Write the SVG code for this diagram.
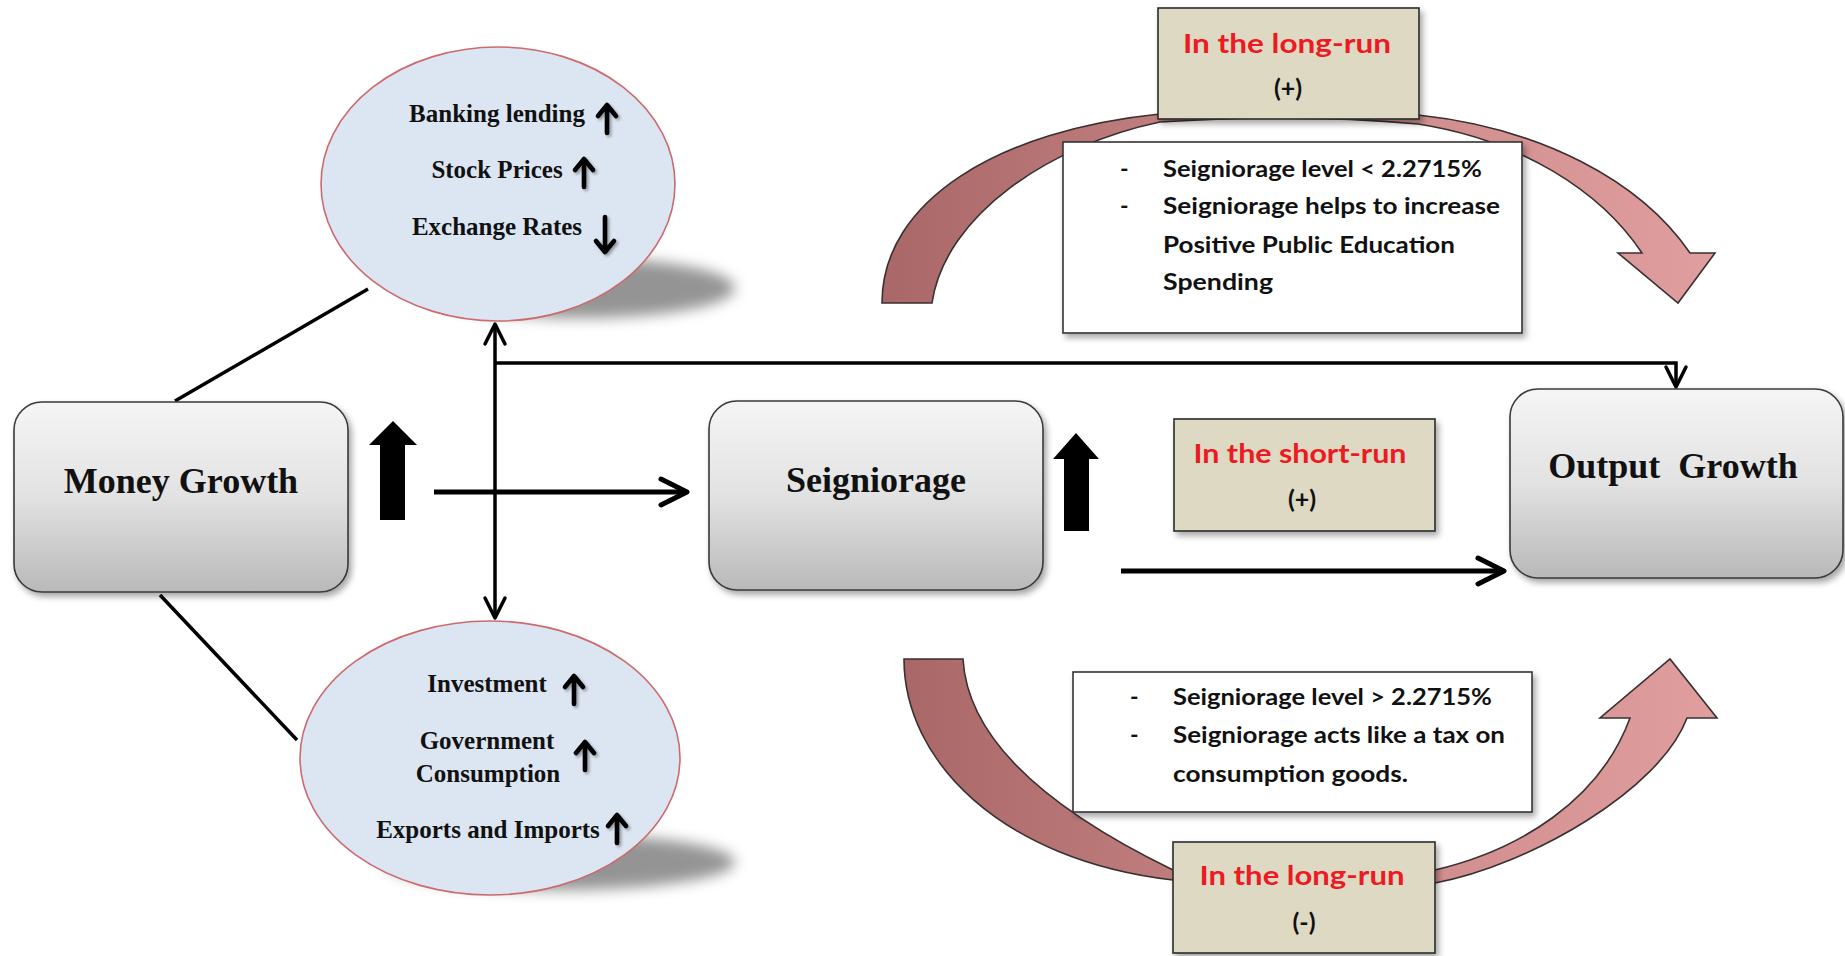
<svg xmlns="http://www.w3.org/2000/svg" width="1845" height="956" viewBox="0 0 1845 956">
<style>
.ser{font-family:"Liberation Serif","Times New Roman",serif;font-weight:700;fill:#111}
.big{font-size:36px;text-anchor:middle}
.sm{font-size:25px;text-anchor:middle}
.cal{font-family:Lato,"Open Sans","Liberation Sans",sans-serif;font-weight:700;fill:#111}
.red{fill:#ec1a22;font-size:27px;text-anchor:middle}
.sign{font-size:25px;text-anchor:middle}
.tx{font-size:23px}
.box{fill:url(#gbox);stroke:#3a3a3a;stroke-width:1.6}
.tan{fill:#ddd9c3;stroke:#2a2a2a;stroke-width:1.6}
.note{fill:#fff;stroke:#333;stroke-width:1.6}
.ell{fill:#dce6f2;stroke:#cc6a6e;stroke-width:1.6}
.ln{fill:none;stroke:#000}
.thick{stroke-width:5}
.thin{stroke-width:3.5}
.sa{fill:none;stroke:#000;stroke-width:4.6;stroke-linecap:round;stroke-linejoin:round}
.curve{stroke:#3a3030;stroke-width:1.6}
</style>
<defs>
<linearGradient id="gbox" x1="0" y1="0" x2="0" y2="1">
<stop offset="0" stop-color="#f5f5f5"/>
<stop offset="0.5" stop-color="#e2e2e2"/>
<stop offset="1" stop-color="#b9b9b9"/>
</linearGradient>
<linearGradient id="gcurve" x1="0" y1="0" x2="1" y2="0">
<stop offset="0" stop-color="#a96767"/>
<stop offset="0.45" stop-color="#c98585"/>
<stop offset="1" stop-color="#e09e9e"/>
</linearGradient>
<filter id="sh" x="-10%" y="-10%" width="125%" height="130%">
<feDropShadow dx="3" dy="4" stdDeviation="3" flood-color="#000" flood-opacity="0.35"/>
</filter>
<filter id="ash" x="-50%" y="-20%" width="200%" height="150%">
<feDropShadow dx="2" dy="2" stdDeviation="1.5" flood-color="#000" flood-opacity="0.35"/>
</filter>
<filter id="blur" x="-30%" y="-100%" width="160%" height="300%">
<feGaussianBlur stdDeviation="7"/>
</filter>
<marker id="chevL" markerUnits="userSpaceOnUse" viewBox="-32 -18 36 36" markerWidth="36" markerHeight="36" refX="0" refY="0" orient="auto" overflow="visible">
<path d="M-26,-13 L0,0 L-26,13" fill="none" stroke="#000" stroke-width="5" stroke-linecap="round" stroke-linejoin="round"/>
</marker>
<marker id="chevS" markerUnits="userSpaceOnUse" viewBox="-24 -14 28 28" markerWidth="28" markerHeight="28" refX="0" refY="0" orient="auto" overflow="visible">
<path d="M-20,-10 L0,0 L-20,10" fill="none" stroke="#000" stroke-width="3.5" stroke-linecap="round" stroke-linejoin="round"/>
</marker>
<path id="upA" class="sa" d="M0,28 V1 M-9,11 L0,0 L9,11"/>
</defs>

<rect width="1845" height="956" fill="#fff"/>

<!-- connectors -->
<g id="connectors">
<line class="ln thin" x1="368" y1="289" x2="175" y2="401"/>
<line class="ln thin" x1="160" y1="595" x2="297" y2="740"/>
<path class="ln thin" d="M495,363 H1676 V387" marker-end="url(#chevS)"/>
<line class="ln thin" x1="495" y1="470" x2="495" y2="324" marker-end="url(#chevS)"/>
<line class="ln thin" x1="495" y1="470" x2="495" y2="618" marker-end="url(#chevS)"/>
<line class="ln thick" x1="434" y1="492" x2="687" y2="492" marker-end="url(#chevL)"/>
<line class="ln thick" x1="1121" y1="571" x2="1504" y2="571" marker-end="url(#chevL)"/>
<path id="curve-top" class="curve" fill="url(#gcurve)" d="M882,303 C882,200 1000,130 1160,114 C1250,106 1330,106 1418,115 C1540,128 1640,180 1690,253 L1715,253 L1678,303 L1618,253 L1642,253 C1600,190 1520,140 1418,124 C1330,116 1250,116 1160,122 C1050,145 945,215 932,303 Z"/>
<path id="curve-bottom" class="curve" fill="url(#gcurve)" d="M904,659 C904,760 1000,860 1173,880 C1250,888 1350,890 1435,883 C1530,865 1660,790 1687,718 L1717,718 L1670,659 L1600,718 L1630,718 C1600,800 1520,850 1435,870 C1350,876 1250,876 1173,870 C1070,820 968,750 963,659 Z"/>
</g>

<!-- Money Growth -->
<g id="money-growth">
<rect class="box" x="14" y="402" width="334" height="190" rx="28" filter="url(#sh)"/>
<text class="ser big" x="181" y="493">Money Growth</text>
<polygon points="369,445 393,421 417,445 405,445 405,520 380,520 380,445" fill="#000"/>
</g>

<!-- Upper circle -->
<g id="circle-top">
<ellipse cx="580" cy="288" rx="155" ry="30" fill="#7a7a7a" opacity="0.8" filter="url(#blur)"/>
<ellipse class="ell" cx="498" cy="184" rx="177" ry="137"/>
<text class="ser sm" x="497" y="122">Banking lending</text>
<use href="#upA" x="607" y="105" filter="url(#ash)"/>
<text class="ser sm" x="497" y="178">Stock Prices</text>
<use href="#upA" x="584" y="159" filter="url(#ash)"/>
<text class="ser sm" x="497" y="235">Exchange Rates</text>
<path class="sa" d="M605,217 V252 M596,241 L605,252 L614,241" filter="url(#ash)"/>
</g>

<!-- Lower circle -->
<g id="circle-bottom">
<ellipse cx="560" cy="862" rx="175" ry="28" fill="#7a7a7a" opacity="0.8" filter="url(#blur)"/>
<ellipse class="ell" cx="490" cy="758" rx="190" ry="137"/>
<text class="ser sm" x="487" y="692">Investment</text>
<use href="#upA" x="574" y="676" filter="url(#ash)"/>
<text class="ser sm" x="487" y="749">Government</text>
<text class="ser sm" x="488" y="782">Consumption</text>
<use href="#upA" x="585" y="742" filter="url(#ash)"/>
<text class="ser sm" x="488" y="838">Exports and Imports</text>
<use href="#upA" x="617" y="815" filter="url(#ash)"/>
</g>

<!-- Seigniorage -->
<g id="seigniorage">
<rect class="box" x="709" y="401" width="334" height="189" rx="28" filter="url(#sh)"/>
<text class="ser big" x="876" y="492">Seigniorage</text>
<polygon points="1053,459 1076,433 1099,459 1089,459 1089,531 1064,531 1064,459" fill="#000"/>
</g>

<!-- Output Growth -->
<g id="output-growth">
<rect class="box" x="1510" y="389" width="333" height="189" rx="28" filter="url(#sh)"/>
<text class="ser big" x="1673" y="478" word-spacing="9">Output Growth</text>
</g>

<!-- Short run label -->
<g id="short-run">
<rect class="tan" x="1174" y="419" width="261" height="112" filter="url(#sh)"/>
<text class="cal red" x="1300" y="463" textLength="213" lengthAdjust="spacingAndGlyphs">In the short-run</text>
<text class="cal sign" x="1302" y="508">(+)</text>
</g>

<!-- Upper note -->
<g id="note-top">
<rect class="note" x="1063" y="142" width="459" height="191" filter="url(#sh)"/>
<text class="cal tx" x="1120" y="177">-</text>
<text class="cal tx" x="1163" y="177" textLength="319" lengthAdjust="spacingAndGlyphs">Seigniorage level &lt; 2.2715%</text>
<text class="cal tx" x="1120" y="214">-</text>
<text class="cal tx" x="1163" y="214" textLength="337" lengthAdjust="spacingAndGlyphs">Seigniorage helps to increase</text>
<text class="cal tx" x="1163" y="253" textLength="292" lengthAdjust="spacingAndGlyphs">Positive Public Education</text>
<text class="cal tx" x="1163" y="290" textLength="110" lengthAdjust="spacingAndGlyphs">Spending</text>
</g>

<!-- Upper long-run label -->
<g id="long-run-top">
<rect class="tan" x="1158" y="8" width="261" height="111" filter="url(#sh)"/>
<text class="cal red" x="1287" y="53" textLength="208" lengthAdjust="spacingAndGlyphs">In the long-run</text>
<text class="cal sign" x="1288" y="97">(+)</text>
</g>

<!-- Lower note -->
<g id="note-bottom">
<rect class="note" x="1073" y="672" width="459" height="140" filter="url(#sh)"/>
<text class="cal tx" x="1130" y="705">-</text>
<text class="cal tx" x="1173" y="705" textLength="319" lengthAdjust="spacingAndGlyphs">Seigniorage level &gt; 2.2715%</text>
<text class="cal tx" x="1130" y="743">-</text>
<text class="cal tx" x="1173" y="743" textLength="332" lengthAdjust="spacingAndGlyphs">Seigniorage acts like a tax on</text>
<text class="cal tx" x="1173" y="782" textLength="235" lengthAdjust="spacingAndGlyphs">consumption goods.</text>
</g>

<!-- Lower long-run label -->
<g id="long-run-bottom">
<rect class="tan" x="1173" y="842" width="262" height="111" filter="url(#sh)"/>
<text class="cal red" x="1302" y="885" textLength="205" lengthAdjust="spacingAndGlyphs">In the long-run</text>
<text class="cal sign" x="1304" y="931">(-)</text>
</g>
</svg>
